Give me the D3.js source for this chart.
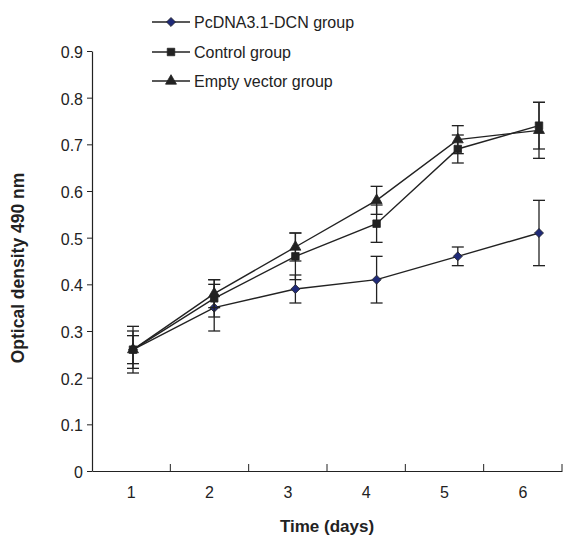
<!DOCTYPE html>
<html>
<head>
<meta charset="utf-8">
<script src="https://cdn.jsdelivr.net/npm/d3@7"></script>
<style>
  body { margin: 0; background: #fff; }
  text { font-family: "Liberation Sans", Arial, sans-serif; fill: #222; }
</style>
</head>
<body>
<svg id="chart" width="579" height="537"></svg>
<script>
const days = [1, 2, 3, 4, 5, 6];
const yTicks = [0, 0.1, 0.2, 0.3, 0.4, 0.5, 0.6, 0.7, 0.8, 0.9];

const pcdnaMean = [0.26, 0.35, 0.39, 0.41, 0.46, 0.51];
const pcdnaErr = [0.05, 0.05, 0.03, 0.05, 0.02, 0.07];
const controlMean = [0.26, 0.37, 0.46, 0.53, 0.69, 0.74];
const controlErr = [0.04, 0.04, 0.05, 0.04, 0.03, 0.05];
const emptyMean = [0.26, 0.38, 0.48, 0.58, 0.71, 0.73];
const emptyErr = [0.03, 0.03, 0.03, 0.03, 0.03, 0.06];

const series = [
    { name: 'PcDNA3.1-DCN group', mean: pcdnaMean, err: pcdnaErr, symbol: d3.symbolDiamond2, size: 52, fill: '#1f2a78' },
    { name: 'Control group', mean: controlMean, err: controlErr, symbol: d3.symbolSquare, size: 56, fill: '#222' },
    { name: 'Empty vector group', mean: emptyMean, err: emptyErr, symbol: d3.symbolTriangle, size: 52, fill: '#222' }
];

const LEFT = 92, RIGHT = 562, TOP = 51, BOTTOM = 471;
const svg = d3.select('#chart');

const y = d3.scaleLinear().domain([0, 0.9]).range([BOTTOM, TOP]);
const xBand = d3.scaleBand().domain(days).range([LEFT, RIGHT]);
const x = d3.scaleLinear().domain([1, 6]).range([133, 539]);

// y axis
const yAxis = svg.append('g').attr('transform', 'translate(' + LEFT + ',0)')
    .call(d3.axisLeft(y).tickValues(yTicks).tickSize(5).tickSizeOuter(0)
        .tickFormat(d => d === 0 ? '0' : d3.format('.1f')(d)));
yAxis.select('.domain').attr('stroke', '#222').attr('stroke-width', 1.2);
yAxis.selectAll('.tick line').attr('stroke', '#222');
yAxis.selectAll('.tick text').attr('font-size', 16).attr('x', -9).attr('dy', '0.4em').style('fill', '#222')
    .attr('font-family', '"Liberation Sans", Arial, sans-serif');

// x axis
const xAxis = svg.append('g').attr('transform', 'translate(0,' + BOTTOM + ')')
    .call(d3.axisBottom(xBand).tickSize(0).tickSizeOuter(0));
xAxis.select('.domain').attr('stroke', '#222').attr('stroke-width', 1.2);
xAxis.selectAll('.tick text').attr('font-size', 16).attr('dy', '1.5em').style('fill', '#222')
    .attr('font-family', '"Liberation Sans", Arial, sans-serif');
const bounds = days.map(d => xBand(d) + xBand.bandwidth());
xAxis.selectAll('.sep').data(bounds).enter().append('line')
    .attr('x1', d => d).attr('x2', d => d).attr('y1', 0).attr('y2', -7)
    .attr('stroke', '#222');

// axis titles
svg.append('text').text('Optical density 490 nm')
    .attr('transform', 'translate(24,' + ((TOP + BOTTOM) / 2 + 7) + ') rotate(-90)')
    .attr('text-anchor', 'middle').attr('font-size', 17.5).attr('font-weight', 'bold');
svg.append('text').text('Time (days)')
    .attr('x', (LEFT + RIGHT) / 2).attr('y', 532)
    .attr('text-anchor', 'middle').attr('font-size', 17).attr('font-weight', 'bold');

const line = d3.line().x((d, i) => x(days[i])).y(d => y(d));

series.forEach(s => {
    const g = svg.append('g');
    // error bars
    days.forEach((d, i) => {
        const cx = x(d);
        const top = y(s.mean[i] + s.err[i]), bot = y(s.mean[i] - s.err[i]);
        g.append('line').attr('x1', cx).attr('x2', cx).attr('y1', top).attr('y2', bot)
            .attr('stroke', '#222').attr('stroke-width', 1.3);
        [top, bot].forEach(v => {
            g.append('line').attr('x1', cx - 6).attr('x2', cx + 6).attr('y1', v).attr('y2', v)
                .attr('stroke', '#222').attr('stroke-width', 1.3);
        });
    });
    g.append('path').datum(s.mean).attr('d', line)
        .attr('fill', 'none').attr('stroke', '#222').attr('stroke-width', 1.4);
    g.selectAll('.m').data(s.mean).enter().append('path')
        .attr('d', d3.symbol().type(s.symbol).size(s.size))
        .attr('transform', (d, i) => 'translate(' + x(days[i]) + ',' + y(d) + ')')
        .attr('fill', s.fill).attr('stroke', '#222').attr('stroke-width', 0.8);
});

// legend
const legendY = [22, 52, 81];
series.forEach((s, i) => {
    const lg = svg.append('g').attr('transform', 'translate(152,' + legendY[i] + ')');
    lg.append('line').attr('x1', 0).attr('x2', 38).attr('y1', 0).attr('y2', 0)
        .attr('stroke', '#222').attr('stroke-width', 1.4);
    lg.append('path').attr('d', d3.symbol().type(s.symbol).size(s.size))
        .attr('transform', 'translate(19,0)').attr('fill', s.fill).attr('stroke', '#222').attr('stroke-width', 0.8);
    lg.append('text').text(s.name).attr('x', 42).attr('y', 6).attr('font-size', 16);
});
</script>
</body>
</html>
